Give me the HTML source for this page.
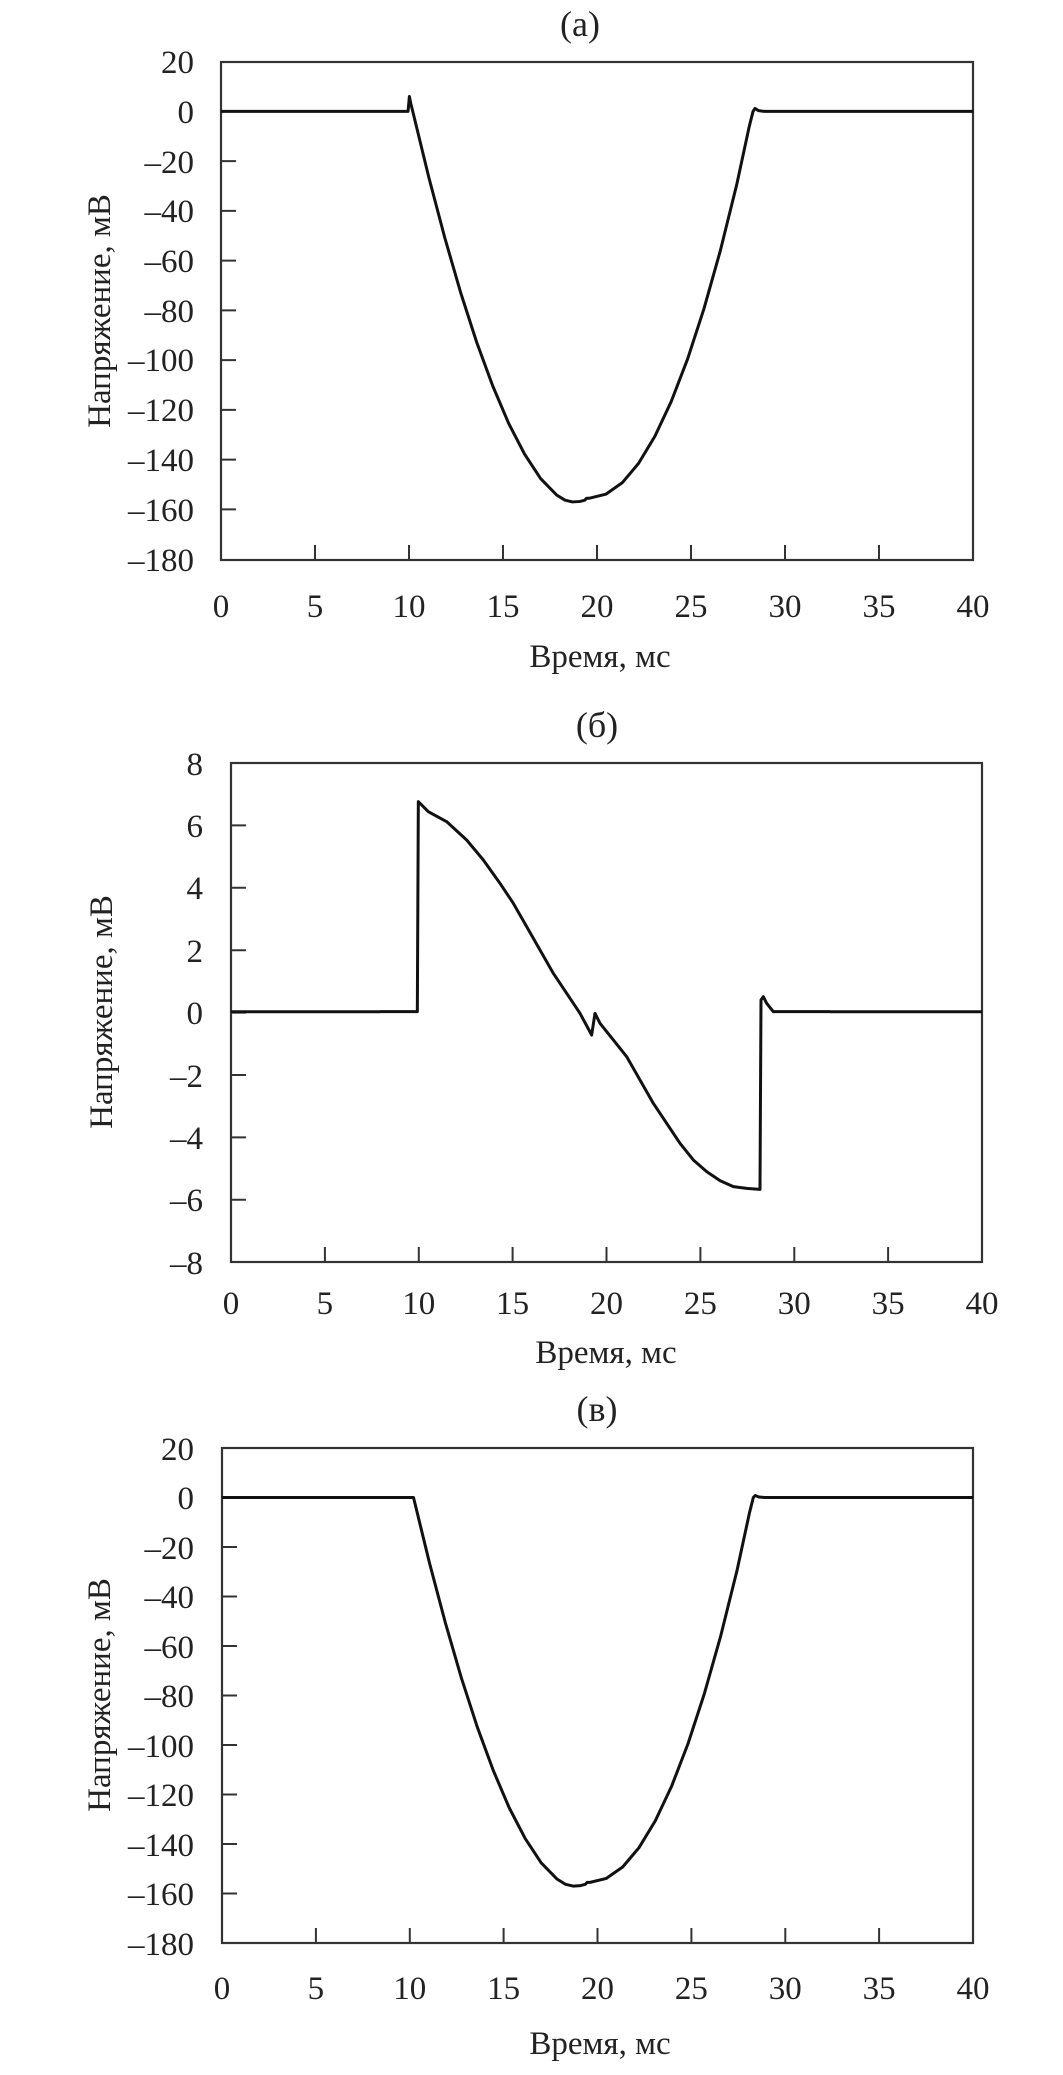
<!DOCTYPE html>
<html><head><meta charset="utf-8"><style>
html,body{margin:0;padding:0;background:#fff}
svg{display:block}
text{font-family:"Liberation Serif","DejaVu Serif",serif;fill:#222}
</style></head><body>
<svg width="1063" height="2075" viewBox="0 0 1063 2075" xmlns="http://www.w3.org/2000/svg">
<g font-size="33">
<!-- Panel a -->
<text x="580" y="36" text-anchor="middle" font-size="36">(a)</text>
<rect x="221" y="62" width="752" height="498" fill="none" stroke="#333" stroke-width="2.2"/>
<g stroke="#333" stroke-width="2">
<path d="M221 111.4h15M221 161.1h15M221 210.9h15M221 260.6h15M221 310.4h15M221 360.1h15M221 409.9h15M221 459.6h15M221 509.4h15"/>
<path d="M315 560v-15M409 560v-15M503 560v-15M597 560v-15M691 560v-15M785 560v-15M879 560v-15"/>
</g>
<g text-anchor="end">
<text x="194" y="73">20</text><text x="194" y="123">0</text><text x="194" y="173">–20</text><text x="194" y="222">–40</text><text x="194" y="272">–60</text><text x="194" y="322">–80</text><text x="194" y="371">–100</text><text x="194" y="421">–120</text><text x="194" y="471">–140</text><text x="194" y="521">–160</text><text x="194" y="571">–180</text>
</g>
<g text-anchor="middle">
<text x="221" y="617">0</text><text x="315" y="617">5</text><text x="409" y="617">10</text><text x="503" y="617">15</text><text x="597" y="617">20</text><text x="691" y="617">25</text><text x="785" y="617">30</text><text x="879" y="617">35</text><text x="973" y="617">40</text>
<text x="600" y="667">Время, мс</text>
</g>
<text transform="translate(110,311) rotate(-90)" text-anchor="middle">Напряжение, мВ</text>
<g transform="translate(221,111.4) scale(18.8,-2.4875)">
<polyline fill="none" stroke="#111" stroke-width="3" vector-effect="non-scaling-stroke" stroke-linejoin="round" points="0,0 9.95,0 10.02,6 10.1,3 10.2,0 11.05,-26.4 11.9,-50.7 12.75,-72.9 13.6,-92.8 14.45,-110.3 15.3,-125.4 16.15,-137.8 17,-147.6 17.85,-154.2 18.3,-156.3 18.7,-157 19.1,-156.8 19.35,-156.3 19.45,-155.5 19.6,-155.5 20.47,-153.9 21.34,-149.3 22.21,-141.5 23.08,-130.6 23.95,-116.6 24.82,-99.5 25.69,-79.3 26.56,-56 27.43,-29.5 28.1,-6 28.3,0 28.4,1.2 28.6,0.3 28.9,0 40,0"/>
</g>

<!-- Panel b -->
<text x="597" y="737" text-anchor="middle" font-size="36">(б)</text>
<rect x="231" y="763" width="751" height="499" fill="none" stroke="#333" stroke-width="2.2"/>
<g stroke="#333" stroke-width="2">
<path d="M231 825.4h15M231 887.8h15M231 950.2h15M231 1012.6h15M231 1075h15M231 1137.4h15M231 1199.8h15"/>
<path d="M324.9 1262v-15M418.8 1262v-15M512.6 1262v-15M606.5 1262v-15M700.4 1262v-15M794.3 1262v-15M888.1 1262v-15"/>
</g>
<g text-anchor="end">
<text x="203" y="775">8</text><text x="203" y="837">6</text><text x="203" y="899">4</text><text x="203" y="962">2</text><text x="203" y="1024">0</text><text x="203" y="1087">–2</text><text x="203" y="1149">–4</text><text x="203" y="1211">–6</text><text x="203" y="1274">–8</text>
</g>
<g text-anchor="middle">
<text x="231" y="1314">0</text><text x="324.9" y="1314">5</text><text x="418.8" y="1314">10</text><text x="512.6" y="1314">15</text><text x="606.5" y="1314">20</text><text x="700.4" y="1314">25</text><text x="794.3" y="1314">30</text><text x="888.1" y="1314">35</text><text x="982" y="1314">40</text>
<text x="606" y="1363">Время, мс</text>
</g>
<text transform="translate(112,1012) rotate(-90)" text-anchor="middle">Напряжение, мВ</text>
<polyline fill="none" stroke="#111" stroke-width="3" stroke-linejoin="round" points="231,1011.7 380,1011.7"/>
<g transform="translate(380,760) scale(0.33333)">
<polyline fill="none" stroke="#111" stroke-width="3" vector-effect="non-scaling-stroke" stroke-linejoin="round" points="0,755 112,755 115,125 120,130 145,155 200,185 260,240 310,300 360,370 400,430 440,500 480,570 520,640 560,700 600,760 635,825 645,760 660,790 700,840 740,890 780,960 820,1030 860,1090 900,1150 940,1200 980,1235 1020,1262 1060,1280 1100,1285 1140,1288 1143,720 1150,710 1160,730 1180,755 1350,755"/>
</g>
<polyline fill="none" stroke="#111" stroke-width="3" points="830,1011.7 982,1011.7"/>

<!-- Panel c -->
<text x="597" y="1421" text-anchor="middle" font-size="36">(в)</text>
<rect x="222" y="1448" width="751" height="495" fill="none" stroke="#333" stroke-width="2.2"/>
<g stroke="#333" stroke-width="2">
<path d="M222 1497.5h15M222 1547h15M222 1596.5h15M222 1646h15M222 1695.5h15M222 1745h15M222 1794.5h15M222 1844h15M222 1893.5h15"/>
<path d="M315.9 1943v-15M409.8 1943v-15M503.6 1943v-15M597.5 1943v-15M691.4 1943v-15M785.3 1943v-15M879.1 1943v-15"/>
</g>
<g text-anchor="end">
<text x="194" y="1460">20</text><text x="194" y="1509">0</text><text x="194" y="1559">–20</text><text x="194" y="1608">–40</text><text x="194" y="1658">–60</text><text x="194" y="1707">–80</text><text x="194" y="1757">–100</text><text x="194" y="1806">–120</text><text x="194" y="1856">–140</text><text x="194" y="1905">–160</text><text x="194" y="1955">–180</text>
</g>
<g text-anchor="middle">
<text x="222" y="1999">0</text><text x="315.9" y="1999">5</text><text x="409.8" y="1999">10</text><text x="503.6" y="1999">15</text><text x="597.5" y="1999">20</text><text x="691.4" y="1999">25</text><text x="785.3" y="1999">30</text><text x="879.1" y="1999">35</text><text x="973" y="1999">40</text>
<text x="600" y="2054">Время, мс</text>
</g>
<text transform="translate(110,1695) rotate(-90)" text-anchor="middle">Напряжение, мВ</text>
<g transform="translate(222,1497.5) scale(18.775,-2.475)">
<polyline fill="none" stroke="#111" stroke-width="3" vector-effect="non-scaling-stroke" stroke-linejoin="round" points="0,0 10.1,0 10.2,0 11.05,-26.4 11.9,-50.7 12.75,-72.9 13.6,-92.8 14.45,-110.3 15.3,-125.4 16.15,-137.8 17,-147.6 17.85,-154.2 18.3,-156.3 18.7,-157 19.1,-156.8 19.35,-156.3 19.45,-155.5 19.6,-155.5 20.47,-153.9 21.34,-149.3 22.21,-141.5 23.08,-130.6 23.95,-116.6 24.82,-99.5 25.69,-79.3 26.56,-56 27.43,-29.5 28.1,-6 28.3,0 28.4,0.8 28.6,0.2 28.9,0 40,0"/>
</g>
</g>
</svg>
</body></html>
